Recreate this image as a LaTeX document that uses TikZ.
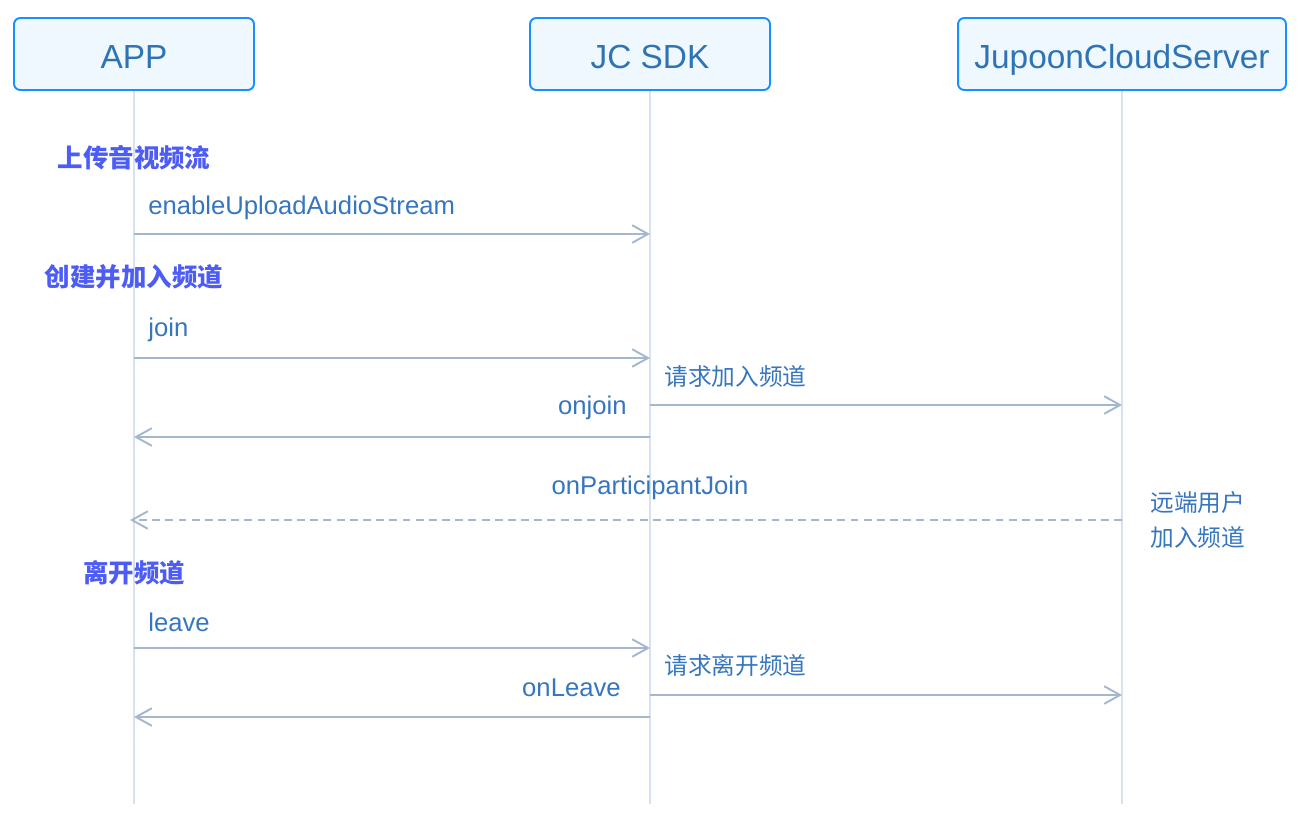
\documentclass[tikz,border=0pt]{standalone}
\usepackage{fontspec}
\setmainfont{Liberation Sans}
\newfontfamily\cjk{Noto Sans CJK SC}
\usetikzlibrary{arrows.meta}
\definecolor{boxline}{HTML}{1890FF}
\definecolor{boxfill}{HTML}{F0F8FF}
\definecolor{titletext}{HTML}{2E74B5}
\definecolor{msgtext}{HTML}{3676BE}
\definecolor{steptext}{HTML}{4D5CF5}
\definecolor{msgline}{HTML}{A4B7CE}
\definecolor{lifeline}{HTML}{D6E2F0}

\begin{document}
\begin{tikzpicture}[x=0.02cm,y=-0.02cm,
    actor/.style={draw=boxline,fill=boxfill,line width=1.1pt,rounded corners=3.5pt,
        minimum height=1.44cm,text height=16pt,text depth=0pt,text=titletext,
        font=\fontsize{19}{21}\selectfont},
    life/.style={draw=lifeline,line width=1.1pt},
    msg/.style={draw=msgline,line width=1.1pt,-{Straight Barb[length=9pt,width=10pt]}},
    reply/.style={msg,dash pattern=on 4.5pt off 3pt},
    mlabel/.style={text=msgtext,inner sep=0pt,font=\fontsize{14.6}{17}\selectfont},
    clabel/.style={text=msgtext,inner sep=0pt,font=\cjk\fontsize{13.5}{16}\selectfont},
    steplabel/.style={text=steptext,inner sep=0pt,font=\cjk\bfseries\fontsize{14.5}{17}\selectfont}]
    \useasboundingbox (0,0) rectangle (1300,832);

    \node[actor,minimum width=4.8cm] (app) at (134,54) {APP};
    \node[actor,minimum width=4.8cm] (sdk) at (650,54) {JC SDK};
    \node[actor,minimum width=6.56cm] (srv) at (1122,54) {JupoonCloudServer};

    \coordinate (appE) at (134,804);
    \coordinate (sdkE) at (650,804);
    \coordinate (srvE) at (1122,804);
    \draw[life] (app) -- (appE);
    \draw[life] (sdk) -- (sdkE);
    \draw[life] (srv) -- (srvE);

    % upload
    \node[steplabel] (upload) at (134,158) {上传音视频流};
    \coordinate (a1) at (134,234);
    \coordinate (s1) at (650,234);
    \node[mlabel,anchor=west] (enable) at (148,208) {enableUploadAudioStream};
    \draw[msg] (a1) -- (s1);

    % join
    \node[steplabel] (create) at (134,277) {创建并加入频道};
    \coordinate (a2) at (134,358);
    \coordinate (s2) at (650,358);
    \node[mlabel,anchor=west] (join) at (148,330) {join};
    \draw[msg] (a2) -- (s2);

    \coordinate (s3) at (650,405);
    \coordinate (c3) at (1122,405);
    \node[clabel,anchor=west] (reqjoin) at (664,376) {请求加入频道};
    \draw[msg] (s3) -- (c3);

    \coordinate (s4) at (650,437);
    \coordinate (a4) at (134,437);
    \node[mlabel,anchor=east] (onjoin) at (627,408) {onjoin};
    \draw[msg] (s4) -- (a4);

    \coordinate (c5) at (1122,520);
    \coordinate (a5) at (130,520);
    \node[mlabel] (onpart) at (650,488) {onParticipantJoin};
    \draw[reply] (c5) -- (a5);
    \node[clabel,anchor=west,align=left,font=\cjk\fontsize{13.5}{19.5}\selectfont]
        (remote) at (1150,520) {远端用户\\加入频道};

    % leave
    \node[steplabel] (quit) at (134,573) {离开频道};
    \coordinate (a6) at (134,648);
    \coordinate (s6) at (650,648);
    \node[mlabel,anchor=west] (leave) at (148,622) {leave};
    \draw[msg] (a6) -- (s6);

    \coordinate (s7) at (650,695);
    \coordinate (c7) at (1122,695);
    \node[clabel,anchor=west] (reqleave) at (664,665) {请求离开频道};
    \draw[msg] (s7) -- (c7);

    \coordinate (s8) at (650,717);
    \coordinate (a8) at (134,717);
    \node[mlabel,anchor=east] (onleave) at (621,688) {onLeave};
    \draw[msg] (s8) -- (a8);
\end{tikzpicture}
\end{document}
